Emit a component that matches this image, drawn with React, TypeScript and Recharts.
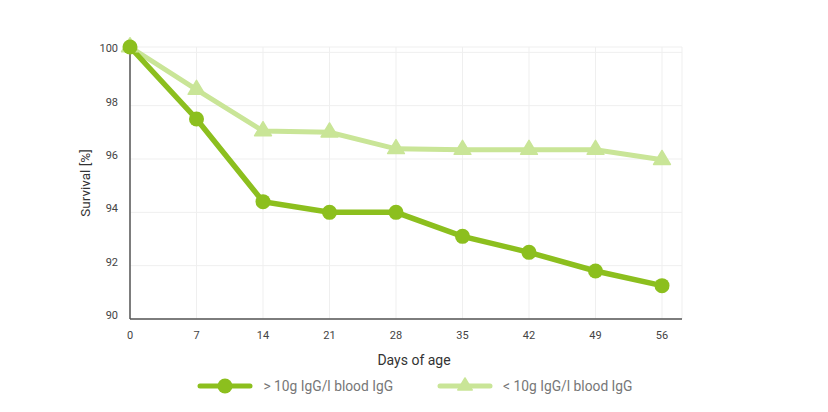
import React from 'react';
import { LineChart, Line, XAxis, YAxis, CartesianGrid, Legend } from 'recharts';

const days = [0, 7, 14, 21, 28, 35, 42, 49, 56];
const highIgG = [100.2, 97.5, 94.4, 94.0, 94.0, 93.1, 92.5, 91.8, 91.25];
const lowIgG = [100.2, 98.6, 97.05, 97.0, 96.38, 96.35, 96.35, 96.35, 95.97];
const yTicks = [90, 92, 94, 96, 98, 100];

const highLabel = '> 10g IgG/l blood IgG';
const lowLabel = '< 10g IgG/l blood IgG';

const DARK = '#8cbf1e';
const LIGHT = '#c9e597';

const data = days.map((d, i) => ({ day: d, high: highIgG[i], low: lowIgG[i] }));

const Triangle = ({ cx, cy, fill, size = 14 }: any) => {
  if (cx == null || cy == null) return null;
  const h = size;
  const w = size * 0.6;
  return (
    <polygon
      points={`${cx},${cy - (2 * h) / 3} ${cx + w},${cy + h / 3} ${cx - w},${cy + h / 3}`}
      fill={fill}
      stroke={fill}
      strokeWidth={1.5}
      strokeLinejoin="round"
    />
  );
};

const LegendItem = ({ label, color, shape }: { label: string; color: string; shape: 'circle' | 'triangle' }) => (
  <div style={{ display: 'flex', alignItems: 'center' }}>
    <svg width={56} height={20}>
      <line x1={3} y1={10} x2={53} y2={10} stroke={color} strokeWidth={5} strokeLinecap="round" />
      {shape === 'circle' ? (
        <circle cx={28} cy={10} r={7.5} fill={color} />
      ) : (
        <Triangle cx={28} cy={10} fill={color} size={12} />
      )}
    </svg>
    <span style={{ marginLeft: 10, fontSize: 13.8, color: '#777' }}>{label}</span>
  </div>
);

const renderLegend = () => (
  <div style={{ display: 'flex', justifyContent: 'center', gap: 44, paddingLeft: 2, fontFamily: 'Roboto, sans-serif' }}>
    <LegendItem label={highLabel} color={DARK} shape="circle" />
    <LegendItem label={lowLabel} color={LIGHT} shape="triangle" />
  </div>
);

const YLabel = ({ viewBox }: any) => {
  const x = viewBox.x + viewBox.width - 45;
  const y = viewBox.y + viewBox.height / 2;
  return (
    <text
      x={x}
      y={y}
      transform={`rotate(-90 ${x} ${y})`}
      textAnchor="middle"
      dominantBaseline="central"
      fontSize={13.5}
      fill="#333"
    >
      Survival [%]
    </text>
  );
};

export default function App() {
  return (
    <div style={{ position: 'absolute', left: 0, top: 0, width: 828, height: 412, fontFamily: 'Roboto, sans-serif' }}>
      <LineChart width={828} height={412} data={data} margin={{ top: 47, right: 146, bottom: 33, left: 0 }}>
        <CartesianGrid stroke="#efefef" strokeWidth={1} />
        <XAxis
          dataKey="day"
          type="number"
          domain={[0, 56]}
          ticks={days}
          padding={{ left: 0, right: 20 }}
          height={60}
          tickLine={false}
          tickMargin={6}
          axisLine={{ stroke: '#555', strokeWidth: 1.5 }}
          tick={{ fill: '#444', fontSize: 11 }}
          label={{ value: 'Days of age', position: 'insideBottom', offset: 14, dx: 8, fill: '#333', fontSize: 14 }}
        />
        <YAxis
          type="number"
          domain={[90, 100.2]}
          ticks={yTicks}
          width={130}
          tickLine={false}
          tickMargin={6}
          axisLine={{ stroke: '#555', strokeWidth: 1.5 }}
          tick={{ fill: '#444', fontSize: 11, dy: -4 }}
          label={<YLabel />}
        />
        <Legend
          verticalAlign="middle"
          align="center"
          content={renderLegend}
          wrapperStyle={{ top: 376, left: 0, width: 828 }}
        />
        <Line
          dataKey="low"
          name={lowLabel}
          stroke={LIGHT}
          strokeWidth={5}
          dot={<Triangle fill={LIGHT} />}
          activeDot={false}
          isAnimationActive={false}
        />
        <Line
          dataKey="high"
          name={highLabel}
          stroke={DARK}
          strokeWidth={5.5}
          dot={{ r: 7.5, fill: DARK, stroke: 'none' }}
          activeDot={false}
          isAnimationActive={false}
        />
      </LineChart>
    </div>
  );
}
